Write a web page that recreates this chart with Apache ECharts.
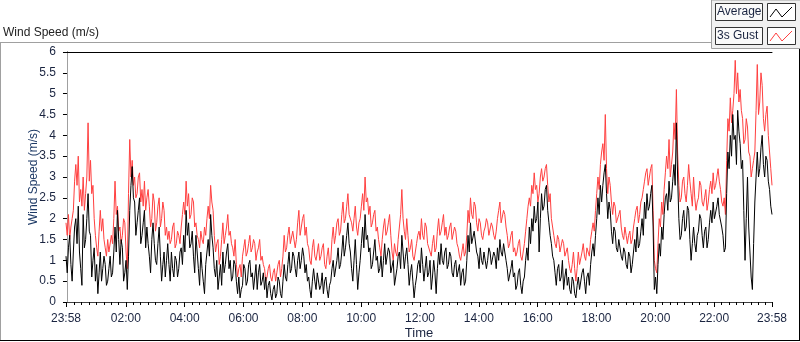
<!DOCTYPE html>
<html>
<head>
<meta charset="utf-8">
<script src="https://cdn.jsdelivr.net/npm/echarts@6/dist/echarts.min.js"></script>
<style>
  html, body { margin: 0; padding: 0; background: #fff; }
  #chart { width: 800px; height: 342px; }
</style>
</head>
<body>
<div id="chart"></div>
<script>
// 3s gust, one value every 2.5 minutes starting 23:58
const gust = [
  1.9, 1.6, 2.1, 1.5, 1.8, 2.0, 2.2, 2.9, 3.3, 2.8, 3.5, 2.4, 2.7, 2.3, 3.0, 2.2, 2.6, 3.0, 4.3, 2.9, 3.4, 2.6, 2.8, 2.0, 1.6, 1.3, 1.1, 1.7, 2.2, 1.7, 2.0, 1.5,
  1.3, 1.1, 1.5, 1.2, 1.2, 1.6, 1.4, 2.0, 2.9, 2.1, 2.3, 1.7, 1.8, 1.4, 1.6, 2.0, 1.9, 1.2, 0.8, 2.6, 3.9, 3.0, 3.4, 2.8,
  3.0, 2.5, 2.6, 3.0, 3.1, 2.4, 2.7, 2.3, 2.9, 2.2, 2.5, 2.7, 2.3, 1.8, 2.0, 2.6, 2.4, 1.7, 1.9, 2.3, 2.5, 1.8, 2.0, 2.4, 2.2, 1.6, 1.8, 1.5,
  1.7, 1.4, 1.5, 1.8, 1.9, 1.3, 1.4, 1.7, 1.6, 1.4, 1.8, 2.1, 2.4, 2.1, 2.9, 2.3, 2.6, 2.0, 2.1, 2.5, 2.4, 1.8, 1.9, 1.6, 1.5, 1.3, 1.7, 1.5, 1.4, 1.8, 1.6, 2.0,
  2.3, 2.0, 2.8, 2.4, 2.2, 1.6, 1.2, 1.4, 1.5, 0.9, 1.1, 1.5, 1.9, 1.4, 1.6, 1.8, 2.1, 1.6, 1.7, 1.4, 1.3, 1.1, 1.5, 0.9, 0.6, 0.8, 0.9, 0.6, 1.1, 1.3,
  1.5, 1.1, 1.2, 1.4, 1.6, 1.2, 1.3, 1.5, 1.4, 1.0, 1.2, 1.3, 1.5, 1.0, 1.1, 0.9, 0.8, 0.5, 0.6, 0.8, 0.9, 0.6, 0.5, 0.7, 0.8, 0.5, 0.7, 0.9, 1.0, 0.6, 0.8, 1.1,
  1.6, 1.2, 1.3, 1.6, 1.8, 1.4, 1.4, 1.7, 1.7, 1.3, 1.5, 1.9, 2.2, 1.6, 1.8, 2.0, 2.1, 1.6, 1.8, 1.4,
  1.3, 1.0, 0.9, 1.3, 1.5, 1.1, 1.0, 1.2, 1.4, 1.0, 1.1, 1.3, 1.4, 0.9, 0.8, 1.1, 1.3, 0.9, 1.0, 1.5, 1.8, 1.4, 1.6, 1.9, 2.0, 1.6, 1.7, 2.1, 2.4, 1.9, 2.0, 2.3, 2.6, 2.1,
  2.1, 1.9, 1.7, 2.0, 2.3, 1.8, 1.6, 1.9, 2.0, 2.3, 2.6, 2.2, 3.0, 2.4, 2.5, 2.1, 2.3, 1.8, 1.9, 2.1, 2.2, 1.7, 1.8, 1.5, 1.3, 1.1, 1.5, 1.8, 2.0, 1.6, 1.7, 1.9, 2.1, 1.6,
  1.2, 1.0, 1.4, 1.2, 1.1, 1.5, 1.8, 2.1, 2.7, 2.0, 1.7, 1.5, 2.0, 1.6, 1.2, 1.3, 1.5, 1.1, 1.0, 1.2, 1.4, 1.6, 1.7, 1.5, 2.0, 1.6, 1.5, 1.9, 1.8, 1.4,
  1.4, 1.2, 1.1, 1.4, 1.6, 1.2, 1.3, 1.7, 2.0, 1.6, 1.7, 1.9, 2.1, 1.6, 1.8, 1.5, 1.6, 1.8, 1.9, 1.5, 1.5, 1.8, 1.7, 1.4, 1.3, 1.1, 1.0, 1.2, 1.4, 1.1, 1.2, 1.6,
  2.2, 1.9, 2.5, 2.1, 2.0, 2.4, 2.3, 1.9, 1.7, 2.0, 1.9, 1.6, 1.5, 1.7, 1.8, 2.0, 1.9, 1.6, 1.6, 1.9, 1.8, 1.6, 1.5, 1.7, 2.0, 2.2, 2.4, 1.9, 1.9, 2.2, 2.1, 1.8,
  1.6, 1.3, 1.4, 1.6, 1.7, 1.2, 1.3, 1.1, 1.2, 1.4, 1.5, 1.1, 1.0, 1.2, 1.4, 1.7, 2.0, 2.3, 2.5, 2.3, 2.8, 2.6, 3.1, 2.7,
  2.8, 2.4, 2.6, 3.0, 3.2, 2.9, 3.0, 3.2, 3.3, 2.8, 2.4, 2.6, 2.0, 1.8, 1.6, 1.4, 1.3, 1.6, 1.5, 1.2, 1.2, 1.5, 1.4, 1.1, 1.1, 1.3, 1.0, 0.8, 0.7, 0.9, 1.2, 0.8, 0.5, 0.8,
  1.2, 0.9, 0.9, 1.2, 1.4, 1.1, 1.0, 1.3, 1.3, 1.1, 1.5, 1.7, 1.9, 1.7, 2.2, 2.6, 3.0, 2.7, 3.3, 3.6, 3.8, 3.4, 4.5, 3.2, 2.6, 3.0, 2.8, 2.4,
  2.1, 2.4, 2.3, 1.9, 1.9, 2.1, 2.2, 1.8, 1.6, 1.5, 1.8, 1.6, 1.4, 1.6, 1.7, 1.4, 1.5, 1.8, 2.0, 2.2, 2.3, 1.9, 2.1, 2.4, 2.5, 2.7, 2.9, 3.1, 3.2, 2.8, 3.0, 3.2, 3.3, 2.2,
  1.0, 0.8, 0.7, 1.4, 2.0, 1.8, 2.4, 2.1, 2.7, 3.1, 3.5, 3.2, 3.9, 3.0, 3.3, 3.6, 4.3, 3.9, 5.1, 3.6,
  2.8, 2.4, 2.5, 2.9, 3.0, 2.6, 2.4, 2.8, 3.3, 2.9, 2.6, 2.3, 3.0, 2.5, 2.2, 2.4, 2.5, 2.9, 2.8, 2.4, 2.3, 2.5, 2.7, 2.2, 2.4, 2.7,
  2.9, 2.6, 3.1, 2.7, 2.8, 3.0, 3.2, 2.9, 2.7, 2.4, 2.3, 2.5, 2.1, 3.4, 4.4, 4.1, 4.9, 4.3, 4.6, 5.0, 5.8, 5.0, 5.5, 4.8, 5.1, 4.6,
  4.4, 3.8, 3.9, 4.4, 4.2, 3.6, 3.5, 3.0, 3.2, 3.4, 3.6, 4.6, 5.7, 4.5, 4.8, 5.5, 5.2, 4.4, 4.1, 4.5, 4.7, 4.0, 3.6, 3.2, 2.8
];
// average, same time steps
const avg = [
  1.1, 0.7, 1.3, 1.6, 0.9, 0.5, 1.2, 1.8, 2.0, 1.4, 2.3, 1.2, 0.8, 0.4, 2.1, 1.3, 1.5, 2.0, 2.6, 1.7, 1.6, 0.6, 1.0, 1.3, 0.5, 0.9, 0.2, 0.7, 1.2, 0.5, 0.8, 1.1,
  0.9, 0.4, 0.5, 0.8, 1.1, 0.6, 0.7, 1.2, 1.8, 1.2, 2.2, 1.5, 0.9, 1.5, 1.3, 0.5, 0.7, 1.0, 0.3, 1.1, 2.2, 2.8, 3.25, 2.5,
  2.4, 1.6, 1.9, 2.2, 2.5, 1.4, 1.6, 1.9, 2.2, 1.3, 1.8, 1.4, 1.1, 0.7, 1.5, 1.9, 1.4, 1.0, 0.9, 1.4, 1.8, 1.1, 0.5, 0.9, 1.2, 0.6, 1.0, 1.4,
  0.9, 0.5, 1.2, 0.8, 0.6, 1.1, 1.0, 0.6, 0.8, 1.2, 1.3, 0.9, 1.6, 1.2, 2.2, 1.6, 1.9, 1.3, 1.4, 1.7, 1.1, 0.7, 1.6, 1.2, 0.8, 0.4, 1.2, 0.8, 0.5, 0.2, 0.9, 1.2,
  1.5, 1.1, 2.1, 1.6, 1.3, 0.8, 0.6, 1.0, 0.3, 0.6, 0.9, 0.4, 1.2, 0.7, 0.9, 1.2, 1.4, 0.8, 1.0, 0.5, 0.6, 1.0, 0.9, 0.5, 0.2, 0.6, 0.1, 0.3, 0.4, 0.9,
  0.8, 0.4, 0.5, 0.9, 1.0, 0.6, 0.7, 0.3, 0.6, 0.9, 0.3, 0.7, 0.9, 0.4, 0.5, 0.7, 0.3, 0.6, 0.1, 0.4, 0.5, 0.2, 0.05, 0.3, 0.4, 0.1, 0.2, 0.6, 0.5, 0.2, 0.1, 0.5,
  0.9, 0.6, 0.5, 0.9, 1.2, 0.7, 0.8, 1.2, 1.1, 0.8, 0.6, 1.0, 1.2, 0.8, 1.0, 1.3, 1.1, 0.7, 0.9, 0.5,
  0.6, 0.3, 0.1, 0.5, 0.8, 0.5, 0.3, 0.7, 0.7, 0.3, 0.4, 0.7, 0.2, 0.5, 0.6, 0.3, 0.1, 0.4, 0.5, 0.8, 1.0, 0.6, 0.6, 1.0, 1.3, 0.8, 0.9, 1.2, 1.6, 1.1, 1.3, 1.6, 1.9, 1.4,
  1.2, 0.8, 0.5, 1.0, 1.5, 0.9, 0.3, 0.7, 1.0, 1.4, 1.8, 1.3, 2.1, 1.5, 1.6, 1.2, 1.3, 0.8, 0.9, 1.2, 1.5, 1.0, 1.1, 0.7, 0.8, 1.1, 0.6, 1.0, 1.4, 0.9, 0.9, 1.3, 1.2, 0.7,
  0.7, 1.0, 0.4, 0.6, 0.8, 1.1, 1.2, 0.8, 1.6, 1.2, 0.8, 1.1, 1.3, 0.9, 0.4, 0.7, 0.9, 0.5, 0.1, 0.4, 0.6, 0.9, 1.0, 0.7, 1.3, 0.9, 0.5, 0.8, 1.1, 0.6,
  0.7, 1.0, 0.3, 0.6, 1.0, 0.7, 0.2, 0.8, 1.2, 0.9, 1.4, 1.0, 0.9, 1.2, 1.3, 0.8, 0.9, 1.2, 1.1, 0.7, 0.6, 0.9, 1.0, 0.6, 0.6, 0.9, 0.4, 0.7, 0.8, 0.4, 0.5, 1.0,
  1.6, 1.2, 1.9, 1.4, 1.4, 1.7, 1.7, 1.2, 1.1, 0.8, 1.3, 1.0, 0.9, 1.2, 1.2, 0.8, 1.0, 1.3, 1.2, 0.9, 0.9, 1.2, 1.1, 0.8, 1.3, 1.0, 1.5, 1.2, 1.1, 1.4, 1.4, 1.0,
  0.8, 0.5, 0.5, 0.8, 1.0, 0.6, 0.7, 0.3, 0.4, 0.7, 0.8, 0.4, 0.2, 0.5, 0.6, 1.0, 1.3, 1.0, 1.8, 1.4, 2.0, 1.7, 2.3, 1.9,
  2.0, 2.4, 1.2, 2.0, 2.6, 2.2, 2.3, 2.7, 2.8, 2.2, 1.9, 1.6, 1.4, 1.1, 1.0, 0.7, 0.4, 0.8, 0.9, 0.5, 0.6, 1.0, 0.3, 0.6, 0.8, 0.4, 0.6, 0.3, 0.2, 0.6, 0.5, 0.2, 0.1, 0.4,
  0.6, 0.3, 0.3, 0.7, 0.8, 0.5, 0.2, 0.6, 0.7, 0.4, 0.9, 1.2, 1.4, 1.1, 1.6, 2.0, 2.5, 2.1, 2.8, 2.4, 2.8, 3.1, 3.3, 2.6, 2.0, 2.4, 2.2, 1.7,
  1.4, 1.8, 1.7, 1.3, 1.2, 1.5, 1.5, 1.1, 1.0, 1.3, 1.2, 0.9, 0.8, 1.2, 1.1, 0.7, 0.9, 1.2, 1.5, 1.2, 1.8, 1.3, 1.4, 1.7, 2.0, 1.6, 2.4, 2.0, 2.6, 2.2, 2.3, 2.6, 2.8, 1.8,
  0.3, 0.6, 0.2, 0.9, 1.4, 1.1, 1.8, 1.5, 2.1, 2.5, 2.6, 2.2, 2.9, 2.4, 2.5, 2.9, 3.3, 2.8, 4.3, 3.0,
  2.0, 1.5, 1.6, 2.0, 2.2, 1.7, 1.8, 2.3, 2.2, 1.5, 1.0, 1.4, 1.8, 1.4, 1.2, 1.6, 1.7, 2.1, 2.0, 1.6, 1.3, 1.7, 1.8, 1.3, 1.5, 1.9,
  2.2, 1.9, 2.4, 2.0, 2.0, 2.3, 2.5, 2.1, 2.1, 1.8, 1.6, 1.2, 1.3, 2.6, 3.6, 3.2, 4.0, 3.5, 4.5, 3.9, 4.0, 3.3, 4.6, 4.1, 3.8, 3.2,
  3.4, 2.2, 1.0, 2.0, 3.0, 1.8, 1.2, 0.6, 0.3, 1.4, 2.4, 3.0, 3.6, 3.0, 3.2, 3.7, 4.0, 3.3, 3.0, 3.5, 3.4, 2.9, 2.7, 2.3, 2.1
];
const stepMin = 2.5;
const startMin = -2; // 23:58 of the day before
const endMin = 1438;

const tickMinutes = [-2, 120, 240, 360, 480, 600, 720, 840, 960, 1080, 1200, 1320, 1438];
const tickLabels = ['23:58', '02:00', '04:00', '06:00', '08:00', '10:00', '12:00',
  '14:00', '16:00', '18:00', '20:00', '22:00', '23:58'];

// minor ticks every 15 min
const minorMinutes = [];
for (let m = 0; m < endMin; m += 15) {
  if (m % 120 !== 0) minorMinutes.push(m);
}

const toXY = arr => arr.map((v, i) => [startMin + i * stepMin, v]);

const labelFont = "'Liberation Sans', Arial, sans-serif";
const textColor = '#1a2440';

const chart = echarts.init(document.getElementById('chart'), null, { renderer: 'canvas' });

chart.setOption({
  animation: false,
  backgroundColor: '#ffffff',
  grid: { left: 66, top: 52, right: 28, height: 250, containLabel: false, outerBoundsMode: 'none' },
  xAxis: [
    {
      type: 'value', min: startMin, max: endMin, position: 'bottom',
      name: 'Time', nameLocation: 'middle', nameGap: 25, nameMoveOverlap: false,
      nameTextStyle: { fontFamily: labelFont, fontSize: 13, color: textColor },
      axisLine: { show: true, lineStyle: { color: '#404040', width: 1 } },
      axisTick: { show: true, length: 5, customValues: tickMinutes, lineStyle: { color: '#000' } },
      axisLabel: {
        customValues: tickMinutes, margin: 11,
        fontFamily: labelFont, fontSize: 12, color: textColor,
        formatter: v => tickLabels[tickMinutes.indexOf(v)] || ''
      },
      splitLine: { show: false }
    },
    {
      type: 'value', min: startMin, max: endMin, position: 'bottom',
      axisLine: { show: false },
      axisTick: { show: true, length: 3, customValues: minorMinutes, lineStyle: { color: '#000' } },
      axisLabel: { show: false },
      splitLine: { show: false }
    },
    {
      type: 'value', min: startMin, max: endMin, position: 'top',
      axisLine: { show: true, lineStyle: { color: '#000', width: 1 } },
      axisTick: { show: false }, axisLabel: { show: false }, splitLine: { show: false }
    }
  ],
  yAxis: [
    {
      type: 'value', min: 0, max: 6, interval: 0.5, position: 'left',
      name: 'Wind Speed (m/s)', nameLocation: 'middle', nameGap: 26, nameRotate: 90,
      nameMoveOverlap: false,
      nameTextStyle: { fontFamily: labelFont, fontSize: 12, color: '#1e3a66' },
      axisLine: { show: true, lineStyle: { color: '#000', width: 1 } },
      axisTick: { show: true, length: 4, lineStyle: { color: '#000' } },
      axisLabel: { margin: 10, fontFamily: labelFont, fontSize: 12, color: textColor },
      splitLine: { show: false }
    },
    {
      type: 'value', min: 0, max: 6, position: 'right',
      axisLine: { show: true, lineStyle: { color: '#a0a0a0', width: 1 } },
      axisTick: { show: false }, axisLabel: { show: false }, splitLine: { show: false }
    }
  ],
  series: [
    {
      name: '3s Gust', type: 'line', data: toXY(gust), showSymbol: false,
      lineStyle: { color: '#ff4040', width: 1 }, itemStyle: { color: '#ff4040' }
    },
    {
      name: 'Average', type: 'line', data: toXY(avg), showSymbol: false,
      lineStyle: { color: '#000000', width: 1 }, itemStyle: { color: '#000000' }
    }
  ],
  graphic: [
    // outer frame
    { type: 'line', shape: { x1: 0, y1: 42.5, x2: 712, y2: 42.5 }, style: { stroke: '#a0a0a0', lineWidth: 1 } },
    { type: 'line', shape: { x1: 0.5, y1: 42, x2: 0.5, y2: 341 }, style: { stroke: '#a0a0a0', lineWidth: 1 } },
    { type: 'line', shape: { x1: 0, y1: 340.5, x2: 800, y2: 340.5 }, style: { stroke: '#000', lineWidth: 1 } },
    { type: 'line', shape: { x1: 799.5, y1: 48, x2: 799.5, y2: 341 }, style: { stroke: '#000', lineWidth: 1 } },
    // chart label
    { type: 'text', left: 3, top: 27, style: { text: 'Wind Speed (m/s)', font: "12px 'Liberation Sans', sans-serif", fill: '#222' } },
    // legend panel
    { type: 'rect', shape: { x: 711.5, y: 0, width: 90, height: 48.5 }, style: { fill: '#f0f0f0', stroke: '#a0a0a0', lineWidth: 1 } },
    { type: 'rect', shape: { x: 715.5, y: 3.5, width: 47, height: 17 }, style: { fill: '#fafafa', stroke: '#333', lineWidth: 1 } },
    { type: 'text', left: 717, top: 6, style: { text: 'Average', font: "12px " + labelFont, fill: textColor } },
    { type: 'rect', shape: { x: 767.5, y: 3.5, width: 28, height: 17 }, style: { fill: '#fff', stroke: '#333', lineWidth: 1 } },
    { type: 'polyline', shape: { points: [[770, 17], [776, 9], [782, 17], [792, 7]] }, style: { stroke: '#000', lineWidth: 1, fill: null } },
    { type: 'rect', shape: { x: 715.5, y: 27.5, width: 47, height: 17 }, style: { fill: '#fafafa', stroke: '#333', lineWidth: 1 } },
    { type: 'text', left: 717, top: 30, style: { text: '3s Gust', font: "12px " + labelFont, fill: textColor } },
    { type: 'rect', shape: { x: 767.5, y: 27.5, width: 28, height: 17 }, style: { fill: '#fff', stroke: '#333', lineWidth: 1 } },
    { type: 'polyline', shape: { points: [[770, 41], [776, 33], [782, 41], [792, 31]] }, style: { stroke: '#ff4040', lineWidth: 1, fill: null } }
  ]
});
</script>
</body>
</html>
